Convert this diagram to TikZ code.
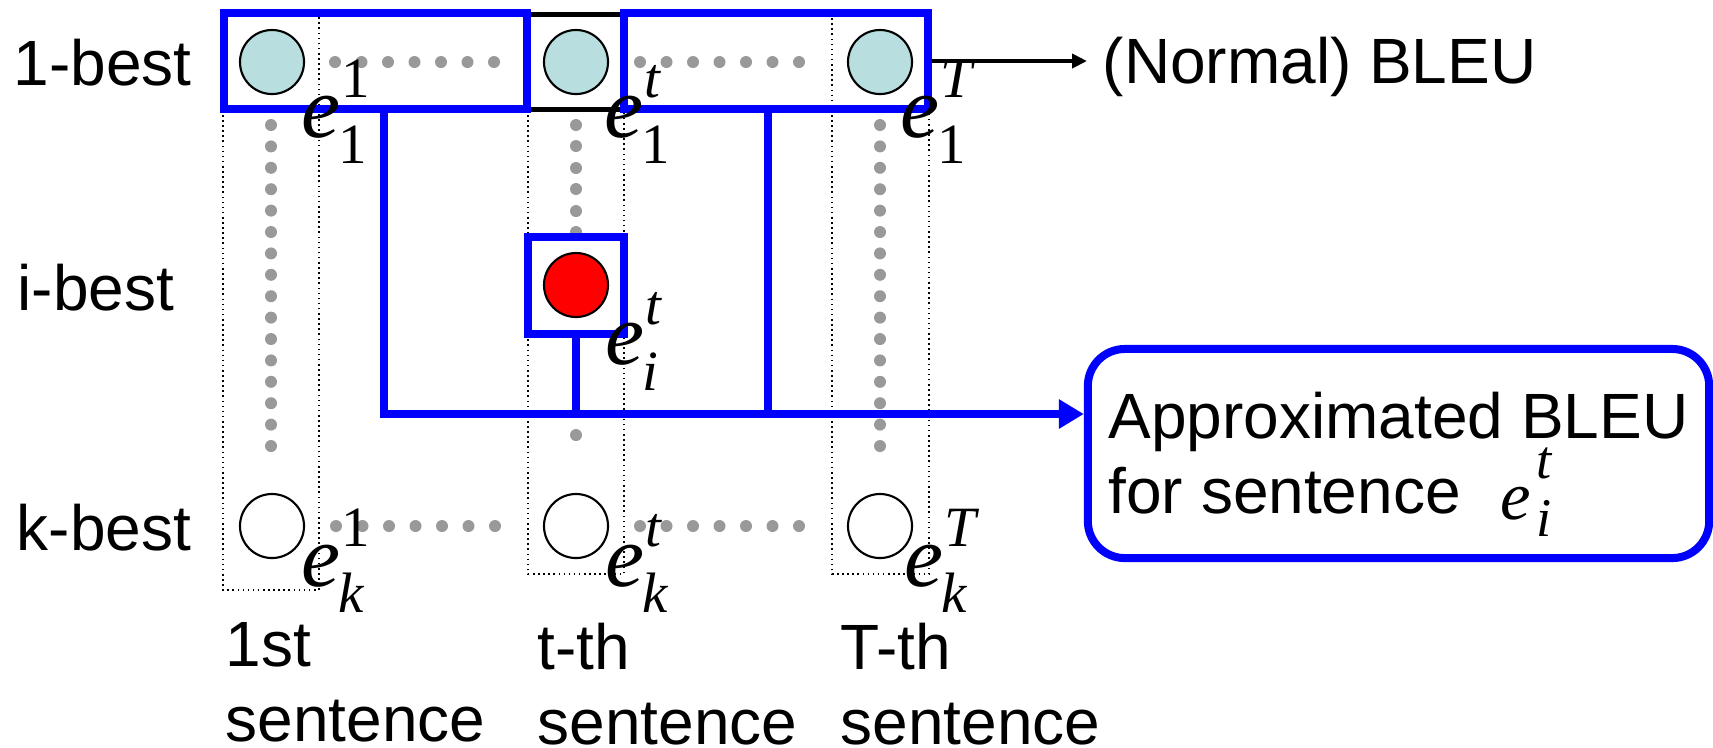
\documentclass[tikz,border=0pt]{standalone}
\usepackage{fontspec}
\setmainfont{Liberation Sans}
\newfontfamily\tms{Liberation Serif}
\usetikzlibrary{arrows.meta,positioning}
\definecolor{nodecyan}{RGB}{184,222,224}
\definecolor{dotgray}{RGB}{153,153,153}

% italic e with a stacked superscript and subscript
\newcommand{\subsz}{\fontsize{16.2}{16.2}\selectfont}
\newcommand{\elab}[2]{{\itshape e}\rlap{\kern0.01em\raisebox{0.45em}{\subsz #1}}\kern-0.03em\raisebox{-0.3em}{\subsz #2}}
\newcommand{\elabsmall}[2]{{\itshape e}\kern0.07em\rlap{\raisebox{0.6em}{\fontsize{15.5}{15.5}\selectfont #1}}\raisebox{-0.24em}{\fontsize{15.5}{15.5}\selectfont #2}}

\begin{document}
\begin{tikzpicture}[
      x=0.01cm, y=-0.01cm,
      txt/.style={font=\fontsize{18.2}{21.3}\selectfont, inner sep=0pt},
      elabel/.style={font=\tms\fontsize{25}{28}\selectfont, inner sep=0pt, anchor=base west},
      cand/.style={circle, draw, line width=0.6pt, minimum size=0.64cm, inner sep=0pt},
      top1/.style={cand, fill=nodecyan},
      chosen/.style={cand, fill=red},
      kth/.style={cand, fill=white},
      bluebox/.style={rectangle, draw=blue, line width=2.28pt, inner sep=0pt},
      colframe/.style={draw, densely dotted, line width=0.45pt},
      bline/.style={draw=blue, line width=2.28pt},
      barr/.style={bline, -{Triangle[length=0.25cm, width=0.28cm]}},
      karr/.style={draw, line width=1.14pt, -{Triangle[length=0.15cm, width=0.14cm]}}
    ]
    \useasboundingbox (0,0) rectangle (1713,747);

    % ===== Dotted columns, one per sentence =====
    \draw[colframe] (223,13) rectangle (319,590);
    \draw[colframe] (528,13) rectangle (624,574);
    \draw[colframe] (832,13) rectangle (929,574);

    % ===== Gray dots =====
    \foreach \i in {0,...,6} {
      \fill[dotgray] (335+26.5*\i,62) circle (0.06cm);
      \fill[dotgray] (640+26.5*\i,62) circle (0.06cm);
      \fill[dotgray] (336+26.5*\i,526) circle (0.06cm);
      \fill[dotgray] (640+26.5*\i,526) circle (0.06cm);
    }
    \foreach \i in {0,...,15} {
      \fill[dotgray] (271,125+21.4*\i) circle (0.06cm);
      \fill[dotgray] (880,125+21.4*\i) circle (0.06cm);
    }
    \foreach \y in {125,146,168,189,211,232,435}
      \fill[dotgray] (576,\y) circle (0.06cm);

    % ===== Row labels =====
    \node[txt, anchor=base west] (best1) at (13,85) {1-best};
    \node[txt, anchor=base west] (besti) at (17,310) {i-best};
    \node[txt, anchor=base west] (bestk) at (16,550) {k-best};

    % ===== 1-best row =====
    \draw[line width=1.42pt] (527,14) rectangle (624,109);
    \node[bluebox, minimum width=3.03cm, minimum height=0.96cm] (box1) at (375.5,61) {};
    \node[bluebox, minimum width=3.04cm, minimum height=0.96cm] (box2) at (776,61) {};
    \node[top1] (c1) at (272,62) {};
    \node[top1] (ct) at (576,62) {};
    \node[top1] (cT) at (880,62) {};

    % ===== i-best =====
    \node[bluebox, fill=white, minimum width=0.96cm, minimum height=0.97cm] (ibox) at (576,285.5) {};
    \node[chosen] (ci) at (576,285) {};

    % ===== k-best row =====
    \node[kth] (k1) at (272,526) {};
    \node[kth] (kt) at (576,526) {};
    \node[kth] (kT) at (880,526) {};

    % ===== Outputs =====
    \node[txt, anchor=west] (normal) at (1102,67) {(Normal) BLEU};
    \node[bluebox, txt, rounded corners=0.37cm, minimum width=6.21cm,
      minimum height=2.09cm, align=left] (approx) at (1398.5,453.5)
      {Approximated BLEU\\for sentence\hspace{0.4cm}\smash{\raisebox{-0.06cm}{\tms\fontsize{19.5}{21}\selectfont\elabsmall{\textit{t}}{\textit{i}}}}};

    % ===== Arrows =====
    \coordinate (bus) at (0,414);
    \draw[karr, shorten >=0.15cm] (box2.east) -- (box2.east -| normal.west);
    \draw[barr] ([xshift=0.085cm]box1.south) |- (approx.west |- bus);
    \draw[bline] (ibox.south) -- (ibox.south |- bus);
    \draw[bline] ([xshift=-0.08cm]box2.south) -- ([xshift=-0.08cm]box2.south |- bus);

    % ===== Candidate labels =====
    \node[elabel] (e11) at (301,137) {\elab{1}{1}};
    \node[elabel] (e1t) at (604,137) {\elab{\textit{t}}{1}};
    \node[elabel] (e1T) at (900,137) {\elab{\textit{T}}{1}};
    \node[elabel] (eit) at (605,364) {\elab{\textit{t}}{\textit{i}}};
    \node[elabel] (ek1) at (301,586) {\elab{1}{\textit{k}}};
    \node[elabel] (ekt) at (605,586) {\elab{\textit{t}}{\textit{k}}};
    \node[elabel] (ekT) at (904,586) {\elab{\textit{T}}{\textit{k}}};

    % ===== Sentence labels =====
    \node[txt, align=left, anchor=north west] (sent1) at (225,622) {1st\\sentence};
    \node[txt, align=left, anchor=north west] (sentt) at (537,622) {t-th\\sentence};
    \node[txt, align=left, anchor=north west] (sentT) at (840,622) {T-th\\sentence};
  \end{tikzpicture}
\end{document}
